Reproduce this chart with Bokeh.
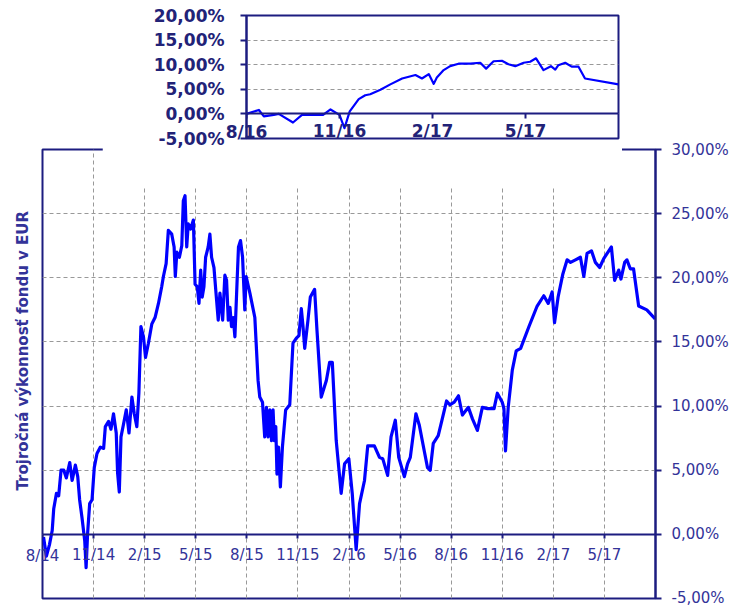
from bokeh.plotting import figure
from bokeh.models import FixedTicker, Range1d, Label, Title
from bokeh.embed import file_html
from bokeh.resources import INLINE

# ---------------- data ----------------
# main chart: months since 8/2014, three-year return in %
main_months = [0.06, 0.23, 0.41, 0.57, 0.66, 0.82, 0.95, 1.09, 1.25, 1.40, 1.60, 1.74, 1.93, 2.07,
               2.18, 2.32, 2.48, 2.56, 2.65, 2.77, 2.91, 3.04, 3.20, 3.40, 3.59, 3.69, 3.88, 4.02,
               4.17, 4.33, 4.41, 4.51, 4.61, 4.76, 4.92, 5.08, 5.25, 5.39, 5.54, 5.66, 5.78, 5.93,
               6.05, 6.22, 6.42, 6.61, 6.81, 7.00, 7.10, 7.26, 7.39, 7.59, 7.73, 7.80, 7.89, 8.04,
               8.18, 8.27, 8.37, 8.47, 8.56, 8.70, 8.86, 8.96, 9.09, 9.19, 9.29, 9.38, 9.48, 9.58,
               9.73, 9.83, 9.93, 10.07, 10.19, 10.32, 10.42, 10.58, 10.71, 10.81, 10.91, 11.01,
               11.10, 11.20, 11.30, 11.43, 11.51, 11.63, 11.75, 11.88, 11.96, 12.18, 12.47, 12.66,
               12.76, 12.92, 13.05, 13.15, 13.25, 13.35, 13.45, 13.54, 13.62, 13.70, 13.77, 13.86,
               13.97, 14.09, 14.28, 14.52, 14.71, 14.91, 15.06, 15.20, 15.30, 15.40, 15.59, 15.73,
               15.98, 16.12, 16.37, 16.67, 16.86, 17.02, 17.25, 17.54, 17.74, 17.99, 18.19, 18.42,
               18.62, 18.91, 19.10, 19.49, 19.79, 19.98, 20.27, 20.47, 20.72, 20.92, 21.25, 21.44,
               21.60, 21.93, 22.13, 22.42, 22.61, 22.77, 22.95, 23.24, 23.46, 23.73, 23.92, 24.18,
               24.43, 24.66, 25.01, 25.25, 25.54, 25.83, 26.13, 26.52, 26.71, 27.00, 27.10, 27.19,
               27.35, 27.59, 27.82, 28.08, 28.57, 29.05, 29.44, 29.70, 29.93, 30.07, 30.28, 30.56,
               30.81, 31.01, 31.30, 31.59, 31.79, 31.98, 32.24, 32.47, 32.72, 32.96, 33.21, 33.41,
               33.60, 33.84, 33.97, 34.19, 34.32, 34.52, 34.71, 35.01, 35.49, 35.98]
main_values = [-0.2, -1.7, -0.8, 0.3, 2.0, 3.2, 3.0, 5.0, 5.0, 4.4, 5.6, 4.2, 5.4, 4.5,
               2.7, 1.3, -0.5, -2.6, 0.1, 2.4, 2.7, 5.2, 6.3, 6.8, 6.7, 8.4, 8.8, 8.2,
               9.4, 7.9, 4.8, 3.3, 7.6, 8.6, 9.7, 7.9, 10.7, 9.4, 8.4, 11.0, 16.2, 15.4,
               13.8, 14.9, 16.4, 16.9, 18.0, 19.3, 20.1, 21.1, 23.7, 23.4, 22.4, 20.1, 22.0, 21.6,
               22.5, 26.0, 26.4, 22.4, 24.2, 23.8, 24.5, 19.5, 19.3, 18.0, 20.6, 18.5, 19.3, 21.6,
               22.4, 23.4, 21.6, 20.8, 18.8, 16.7, 18.8, 16.7, 20.2, 19.8, 16.7, 17.7,
               16.2, 16.9, 15.4, 19.8, 22.4, 22.9, 21.6, 17.5, 20.1, 18.8, 16.9, 12.0,
               10.7, 10.3, 7.6, 9.9, 7.6, 9.7, 7.3, 9.7, 7.3, 8.4, 4.7, 6.8,
               3.7, 6.8, 9.7, 10.1, 14.9, 15.3, 15.5, 17.6, 16.2, 14.5, 16.7, 18.5,
               19.1, 15.9, 10.7, 12.0, 13.4, 13.4, 7.3, 3.2, 5.5, 5.9, 3.2, -1.2,
               2.4, 4.2, 6.9, 6.9, 6.0, 5.9, 4.6, 7.6, 8.9, 6.0, 4.5, 5.5,
               6.0, 9.4, 8.5, 6.5, 5.2, 5.0, 7.1, 7.7, 8.9, 10.4, 10.1, 10.3,
               10.8, 9.3, 9.9, 9.0, 8.1, 9.9, 9.8, 9.8, 11.0, 10.3, 9.8, 6.5,
               9.9, 12.8, 14.3, 14.5, 16.2, 17.8, 18.6, 18.0, 18.9, 16.5, 18.5, 20.3,
               21.4, 21.2, 21.4, 21.6, 20.1, 21.9, 22.1, 21.2, 20.8, 21.5, 22.0, 22.4,
               19.8, 20.6, 19.9, 21.2, 21.4, 20.7, 20.7, 17.8, 17.5, 16.8]

main_x_ticks = [0, 3, 6, 9, 12, 15, 18, 21, 24, 27, 30, 33]
main_x_labels = ["8/14", "11/14", "2/15", "5/15", "8/15", "11/15",
                 "2/16", "5/16", "8/16", "11/16", "2/17", "5/17"]
main_y_ticks = [-5, 0, 5, 10, 15, 20, 25, 30]
main_y_labels = ["-5,00%", "0,00%", "5,00%", "10,00%", "15,00%", "20,00%", "25,00%", "30,00%"]
main_y_title = "Trojročná výkonnosť fondu v EUR"

# inset chart: months since 8/2016, one-year return in %
inset_months = [0.0, 0.40, 0.56, 0.88, 1.04, 1.50, 1.79, 2.47, 2.71, 3.00, 3.16, 3.33, 3.62,
                3.83, 3.99, 4.32, 4.64, 5.02, 5.45, 5.66, 5.88, 6.04, 6.14, 6.36, 6.57, 6.84,
                7.22, 7.54, 7.73, 7.97, 8.24, 8.45, 8.67, 8.94, 9.15, 9.34, 9.58, 9.82, 9.96,
                10.06, 10.28, 10.49, 10.71, 10.92, 12.0]
inset_values = [0.0, 0.8, -0.5, -0.2, 0.0, -1.75, -0.2, -0.2, 0.9, -0.2, -2.9, 0.5, 3.0,
                3.8, 4.0, 4.9, 6.0, 7.2, 7.9, 7.2, 8.1, 6.1, 7.4, 8.9, 9.7, 10.2,
                10.2, 10.4, 9.2, 10.7, 10.8, 10.1, 9.7, 10.4, 10.6, 11.3, 8.9, 9.7, 9.0,
                9.9, 10.4, 9.6, 9.6, 7.2, 6.0]
inset_x_ticks = [0, 3, 6, 9]
inset_x_labels = ["8/16", "11/16", "2/17", "5/17"]
inset_y_ticks = [-5, 0, 5, 10, 15, 20]
inset_y_labels = ["-5,00%", "0,00%", "5,00%", "10,00%", "15,00%", "20,00%"]

NAVY = "#1c1c80"
TEXT = "#333399"
ITEXT = "#222277"
GRID = "#999999"
FONT = "DejaVu Sans"


def style_axis(ax, ticks, labels, tick_out, standoff, size, bold=False, color=TEXT):
    ax.ticker = FixedTicker(ticks=ticks)
    ax.major_label_overrides = dict(zip(ticks, labels))
    ax.axis_line_color = NAVY
    ax.axis_line_width = 2
    ax.major_tick_line_color = NAVY
    ax.major_tick_line_width = 2
    ax.major_tick_in = 0
    ax.major_tick_out = tick_out
    ax.minor_tick_line_color = None
    ax.major_label_standoff = standoff
    ax.major_label_text_font = FONT
    ax.major_label_text_font_size = size
    ax.major_label_text_font_style = "bold" if bold else "normal"
    ax.major_label_text_color = color


# ---------------- main chart ----------------
p = figure(width=731, height=606, output_backend="svg", toolbar_location=None,
           x_range=Range1d(0, 36), y_range=Range1d(-5, 30),
           y_axis_location="right", x_axis_location="below",
           min_border_left=42, min_border_right=74, min_border_top=149, min_border_bottom=8)
p.background_fill_color = "white"
p.border_fill_color = "white"
p.outline_line_color = NAVY
p.outline_line_width = 2

xa = p.xaxis[0]
xa.fixed_location = 0
style_axis(xa, main_x_ticks, main_x_labels, 4, 8, "15px")
# the first label straddles the frame edge; place it in a side panel (roomy top border)
# so that it is not clipped to the frame
xa.major_label_overrides = dict(zip(main_x_ticks, [""] + main_x_labels[1:]))
p.add_layout(Label(x=0, y=-397, x_units="screen", y_units="screen", text=main_x_labels[0],
                   text_align="center", text_baseline="top", text_font=FONT,
                   text_font_size="15px", text_color=TEXT), "above")

ya = p.yaxis[0]
style_axis(ya, main_y_ticks, main_y_labels, 6, 10, "15px")

p.add_layout(Title(text=main_y_title, align="left", offset=108, standoff=20,
                   vertical_align="middle",
                   text_font=FONT, text_font_size="15px", text_font_style="bold",
                   text_color=TEXT), "left")

p.xgrid.ticker = FixedTicker(ticks=main_x_ticks)
p.xgrid.grid_line_color = GRID
p.xgrid.grid_line_dash = "4 3"
p.xgrid.grid_line_width = 1
p.ygrid.grid_line_color = GRID
p.ygrid.grid_line_dash = "4 3"
p.ygrid.grid_line_width = 1

p.line(main_months, main_values, line_color="#0000ff", line_width=3.2, line_join="round")

# ---------------- inset chart ----------------
q = figure(width=520, height=188, output_backend="svg", toolbar_location=None,
           x_range=Range1d(0, 12), y_range=Range1d(-5, 20),
           min_border_left=144, min_border_right=4, min_border_top=15, min_border_bottom=50)
q.background_fill_color = "white"
q.border_fill_color = "white"
q.outline_line_color = NAVY
q.outline_line_width = 2

qx = q.xaxis[0]
qx.fixed_location = 0
style_axis(qx, inset_x_ticks, inset_x_labels, 5, 2, "17px", bold=True, color=ITEXT)
qx.major_label_overrides = dict(zip(inset_x_ticks, [""] + inset_x_labels[1:]))
q.add_layout(Label(x=0, y=36.6, x_units="screen", y_units="screen", text=inset_x_labels[0],
                   text_align="center", text_baseline="top", text_font=FONT,
                   text_font_size="17px", text_font_style="bold", text_color=ITEXT), "below")

qy = q.yaxis[0]
style_axis(qy, inset_y_ticks, inset_y_labels, 6, 16, "17px", bold=True, color=ITEXT)

q.xgrid.visible = False
q.ygrid.grid_line_color = GRID
q.ygrid.grid_line_dash = "4 3"
q.ygrid.grid_line_width = 1

q.line(inset_months, inset_values, line_color="#0000ff", line_width=2.2, line_join="round")

# the inset sits on top of the main chart, as a white box over its upper part
q.styles = {"position": "absolute", "left": "102px", "top": "0px", "z-index": "10"}

open("out.html", "w").write(file_html([p, q], INLINE))
